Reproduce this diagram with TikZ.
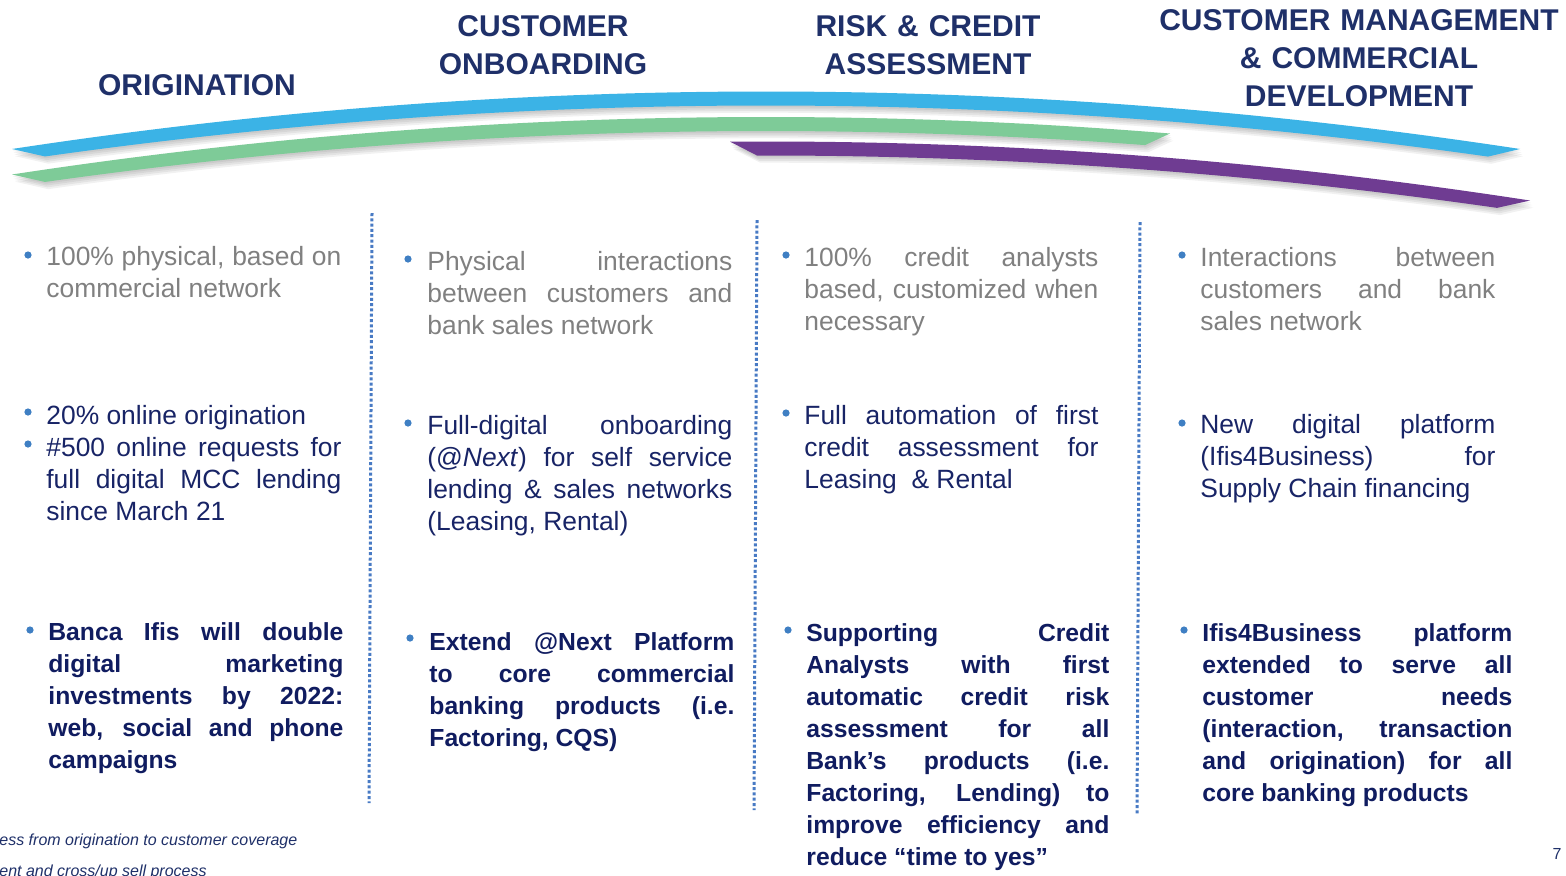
\documentclass[tikz,border=0pt]{standalone}
\usepackage{fontspec}
\setmainfont{Liberation Sans}
\definecolor{headc}{RGB}{31,48,105}
\definecolor{greyc}{RGB}{128,128,128}
\definecolor{navyc}{RGB}{24,36,102}
\definecolor{boldc}{RGB}{16,28,96}
\definecolor{bulc}{RGB}{63,127,195}
\definecolor{divc}{RGB}{72,122,196}
\definecolor{bluec}{RGB}{59,179,230}
\definecolor{greenc}{RGB}{126,203,152}
\definecolor{purplec}{RGB}{111,60,146}
\def\cw{100pt}
\newcommand\jl[1]{\makebox[\cw][s]{\spaceskip=0pt\xspaceskip=0pt\relax #1}}
\tikzset{
  wd/.style={text width=#1, execute at begin node={\def\cw{#1}\spaceskip=0pt\xspaceskip=0pt\relax}},
  head/.style={anchor=base, text width=220pt, align=center, inner sep=0pt, text=headc,
    font=\bfseries\fontsize{15}{19}\selectfont},
  greytxt/.style={anchor=base west, inner sep=0pt, align=justify, text=greyc,
    font=\fontsize{13.2}{16}\selectfont},
  navytxt/.style={anchor=base west, inner sep=0pt, align=justify, text=navyc,
    font=\fontsize{13.2}{16}\selectfont},
  boldtxt/.style={anchor=base west, inner sep=0pt, align=justify, text=boldc,
    font=\bfseries\fontsize{12.35}{16}\selectfont},
  bul/.style={circle, fill=bulc, inner sep=0pt, minimum size=3.6pt},
  divider/.style={draw=divc, line width=1.5pt, dash pattern=on 1.5pt off 1.15pt},
  bluepath/.style={insert path={plot[domain=12:1520,samples=100] (\x,{91.5+1.011*((\x-766)/100)^2})
     -- plot[domain=1488:45,samples=100] (\x,{105.5+0.98*((\x-766)/100)^2}) -- cycle}},
  greenpath/.style={insert path={plot[domain=12:1170,samples=90] (\x,{117+1.011*((\x-766)/100)^2})
     -- plot[domain=1145:45,samples=90] (\x,{131+0.98*((\x-766)/100)^2}) -- cycle}},
  purplepath/.style={insert path={plot[domain=730:1530,samples=80] (\x,{141.5+1.011*((\x-766)/100)^2})
     -- plot[domain=1497:757,samples=80] (\x,{155.5+0.98*((\x-766)/100)^2}) -- cycle}},
  shad/.style={fill=black, opacity=0.055},
  foot/.style={anchor=base west, inner sep=0pt, text=headc, font=\itshape\fontsize{8}{10}\selectfont}
}
\begin{document}
\begin{tikzpicture}[x=0.5pt,y=-0.5pt]
\useasboundingbox (0,0) rectangle (1566,875);
\clip (0,0) rectangle (1566,875);
\fill[white] (0,0) rectangle (1566,875);

% bands with soft shadows
\foreach \k in {1,2,3,4} {\fill[shad, shift={(0.8*\k,1.8*\k)}, bluepath];}
\fill[bluec, bluepath];
\foreach \k in {1,2,3,4} {\fill[shad, shift={(0.8*\k,1.8*\k)}, greenpath];}
\fill[greenc, greenpath];
\foreach \k in {1,2,3,4} {\fill[shad, shift={(0.8*\k,1.8*\k)}, purplepath];}
\fill[purplec, purplepath];

% headings
\node[head] (h1) at (197,95) {ORIGINATION};
\node[head] (h2) at (543,36) {CUSTOMER\\ONBOARDING};
\node[head] (h3) at (928,36) {RISK \& CREDIT\\ASSESSMENT};
\node[head] (h4) at (1359,30) {CUSTOMER MANAGEMENT\\\& COMMERCIAL\\DEVELOPMENT};

% dividers
\coordinate (d1t) at (372,213); \coordinate (d1b) at (369,803);
\coordinate (d2t) at (757,220); \coordinate (d2b) at (754,810);
\coordinate (d3t) at (1140,222); \coordinate (d3b) at (1137,815);
\draw[divider] (d1t) -- (d1b);
\draw[divider] (d2t) -- (d2b);
\draw[divider] (d3t) -- (d3b);

% column 1
\node[bul] (b1a) at (28,255) {};
\node[greytxt, wd=147.5pt] (t1a) at (46,265) {\jl{100\% physical, based on}\\commercial network};
\node[bul] (b1b) at (28,412) {};
\node[bul] (b1c) at (28,444) {};
\node[navytxt, wd=147.5pt] (t1b) at (46,424) {20\% online origination\\\jl{\#500 online requests for}\\\jl{full digital MCC lending}\\since March 21};
\node[bul] (b1d) at (30,630) {};
\node[boldtxt, wd=147.5pt] (t1c) at (48,640) {\jl{Banca Ifis will double}\\\jl{digital marketing}\\\jl{investments by 2022:}\\\jl{web, social and phone}\\campaigns};

% column 2
\node[bul] (b2a) at (408,259) {};
\node[greytxt, wd=152.5pt] (t2a) at (427,270) {\jl{Physical interactions}\\\jl{between customers and}\\bank sales network};
\node[bul] (b2b) at (408,423) {};
\node[navytxt, wd=152.5pt] (t2b) at (427,434) {\jl{Full-digital onboarding}\\\jl{(@\textit{Next}) for self service}\\\jl{lending \& sales networks}\\(Leasing, Rental)};
\node[bul] (b2c) at (410,638) {};
\node[boldtxt, wd=152.5pt] (t2c) at (429,650) {\jl{Extend @Next Platform}\\\jl{to core commercial}\\\jl{banking products (i.e.}\\Factoring, CQS)};

% column 3
\node[bul] (b3a) at (786,255) {};
\node[greytxt, wd=147pt] (t3a) at (804,266) {\jl{100\% credit analysts}\\\jl{based, customized when}\\necessary};
\node[bul] (b3b) at (786,413) {};
\node[navytxt, wd=147pt] (t3b) at (804,424) {\jl{Full automation of first}\\\jl{credit assessment for}\\Leasing~ \& Rental};
\node[bul] (b3c) at (788,630) {};
\node[boldtxt, wd=151.5pt] (t3c) at (806,641) {\jl{Supporting Credit}\\\jl{Analysts with first}\\\jl{automatic credit risk}\\\jl{assessment for all}\\\jl{Bank’s products (i.e.}\\\jl{Factoring, Lending) to}\\\jl{improve efficiency and}\\reduce “time to yes”};

% column 4
\node[bul] (b4a) at (1182,255) {};
\node[greytxt, wd=147.5pt] (t4a) at (1200,266) {\jl{Interactions between}\\\jl{customers and bank}\\sales network};
\node[bul] (b4b) at (1182,423) {};
\node[navytxt, wd=147.5pt] (t4b) at (1200,433) {\jl{New digital platform}\\\jl{(Ifis4Business) for}\\Supply Chain financing};
\node[bul] (b4c) at (1184,630) {};
\node[boldtxt, wd=155pt] (t4c) at (1202,641) {\jl{Ifis4Business platform}\\\jl{extended to serve all}\\\jl{customer needs}\\\jl{(interaction, transaction}\\\jl{and origination) for all}\\core banking products};

% footnotes and page number
\node[foot] (f1) at (-1,845) {ess from origination to customer coverage};
\node[foot] (f2) at (-1,876) {ent and cross/up sell process};
\node[anchor=base east, inner sep=0pt, text=headc, font=\fontsize{8}{10}\selectfont] (pg) at (1562,859) {7};
\end{tikzpicture}
\end{document}
